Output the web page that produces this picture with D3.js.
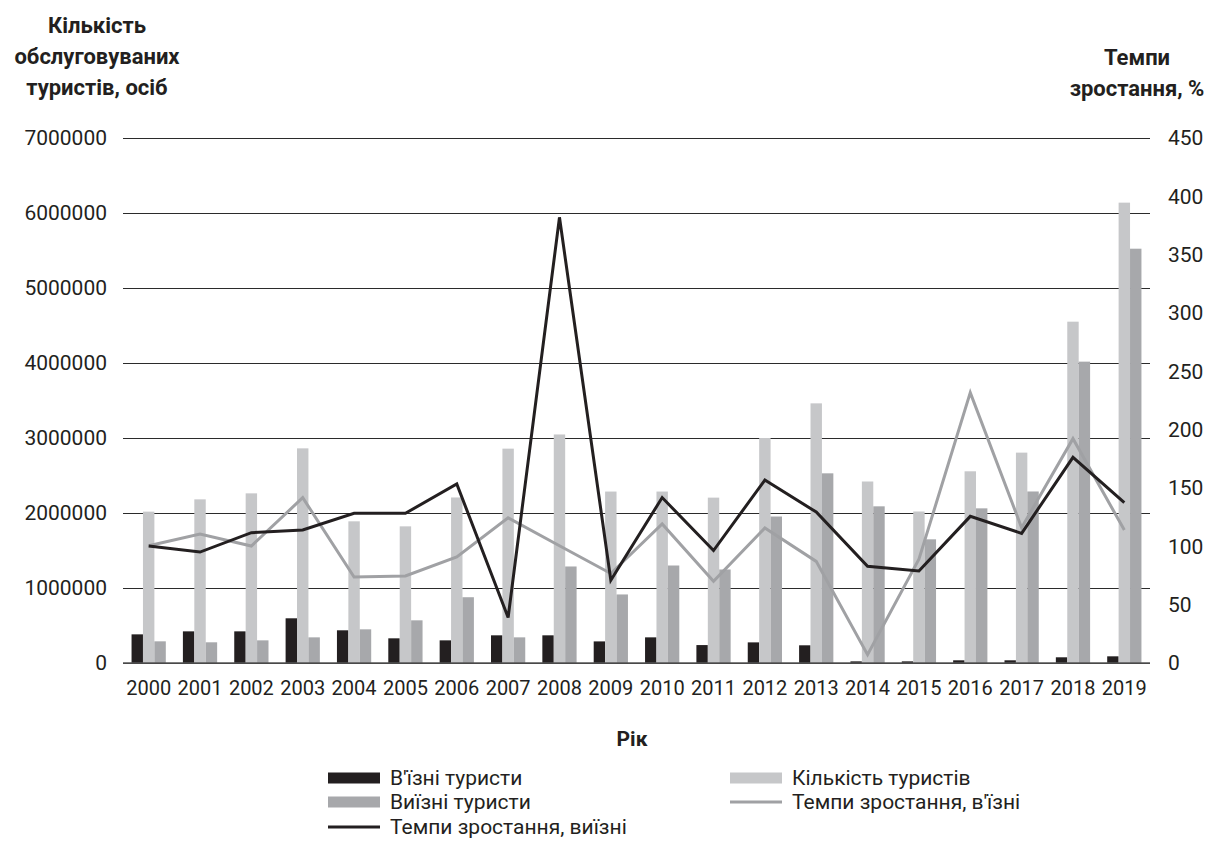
<!DOCTYPE html>
<html><head><meta charset="utf-8">
<script src="https://cdn.jsdelivr.net/npm/d3@7"></script>
<style>
html,body{margin:0;padding:0;background:#fff;}
svg{display:block;font-family:Roboto,"Open Sans",sans-serif;}
</style></head>
<body><svg id="chart" width="1209" height="849"></svg>
<script>
const years = ["2000","2001","2002","2003","2004","2005","2006","2007","2008","2009","2010","2011","2012","2013","2014","2015","2016","2017","2018","2019"];
const inbound  = [382000,422000,422000,596000,436000,329000,302000,369000,369000,288000,342000,239000,275000,236000,22000,22000,36000,36000,76000,89000];
const total    = [2018000,2182000,2262000,2862000,1889000,1822000,2207000,2858000,3047000,2286000,2286000,2205000,3000000,3462000,2420000,2020000,2556000,2805000,4551000,6138000];
const outbound = [289000,276000,302000,342000,449000,569000,877000,342000,1287000,914000,1300000,1247000,1953000,2529000,2089000,1649000,2062000,2287000,4018000,5524000];
const rateIn   = [100.5,110.6,100.3,141.7,73.7,74.6,91,124.4,100.5,76.7,119.2,70,115.7,87.1,7.1,88.9,231.7,116,192.3,114];
const rateOut  = [100.3,95.1,111.7,114,128.3,128.3,153.5,39,382,70.9,141.8,96.4,156.8,129.4,82.9,78.9,125.7,111.1,176.3,137.4];
const leftTicks  = [0,1000000,2000000,3000000,4000000,5000000,6000000,7000000];
const rightTicks = [0,50,100,150,200,250,300,350,400,450];

const C = {inb:"#231f20", tot:"#c6c7c9", out:"#a7a8ab", lineIn:"#a0a1a4", lineOut:"#231f20"};
const svg = d3.select("#chart");
const L = 123, R = 1150, T = 138, B = 663;

const x0 = d3.scaleBand().domain(years).range([L, R]).padding(0);
const bw = x0.bandwidth();
const groupW = bw * 0.667;
const x1 = d3.scaleBand().domain(["inb","tot","out"]).range([0, groupW]).padding(0);
const yL = d3.scaleLinear().domain([0, 7000000]).range([B, T]);
const yR = d3.scaleLinear().domain([0, 450]).range([B, T]);

// gridlines + left axis
const axL = d3.axisLeft(yL).tickValues(leftTicks).tickSize(-(R - L)).tickFormat(d3.format("d")).tickPadding(16);
const gL = svg.append("g").attr("transform", `translate(${L},0)`).call(axL);
gL.select(".domain").remove();
gL.selectAll(".tick line").attr("stroke", "#2b2b2b").attr("stroke-width", 1.2);
gL.selectAll(".tick text").attr("font-size", 21).attr("fill", "#231f20").attr("font-family", "Roboto");

// right axis labels
const axR = d3.axisRight(yR).tickValues(rightTicks).tickSize(0).tickPadding(18);
const gR = svg.append("g").attr("transform", `translate(${R},0)`).call(axR);
gR.select(".domain").remove();
gR.selectAll(".tick text").attr("font-size", 21).attr("fill", "#231f20").attr("font-family", "Roboto");

// bars
const series = [{k:"inb", v:inbound}, {k:"tot", v:total}, {k:"out", v:outbound}];
const gBars = svg.append("g");
years.forEach((yr, i) => {
  const gx = x0(yr) + (bw - groupW) / 2;
  series.forEach(s => {
    gBars.append("rect")
      .attr("x", gx + x1(s.k))
      .attr("width", x1.bandwidth())
      .attr("y", yL(s.v[i]))
      .attr("height", B - yL(s.v[i]))
      .attr("fill", C[s.k]);
  });
});

// baseline
svg.append("line").attr("x1", L).attr("x2", R).attr("y1", B).attr("y2", B)
  .attr("stroke", "#555").attr("stroke-width", 1.5);

// x axis labels
const axX = d3.axisBottom(x0).tickSize(0).tickPadding(18);
const gX = svg.append("g").attr("transform", `translate(0,${B})`).call(axX);
gX.select(".domain").remove();
gX.selectAll(".tick text").attr("font-size", 20).attr("fill", "#231f20").attr("font-family", "Roboto");

// lines
const cx = d => x0(d) + bw / 2;
const lineGen = d3.line().x((d, i) => cx(years[i])).y(d => yR(d));
svg.append("path").datum(rateIn).attr("d", lineGen).attr("fill", "none")
  .attr("stroke", C.lineIn).attr("stroke-width", 3).attr("stroke-linejoin", "miter");
svg.append("path").datum(rateOut).attr("d", lineGen).attr("fill", "none")
  .attr("stroke", C.lineOut).attr("stroke-width", 3).attr("stroke-linejoin", "miter");

// titles
const leftTitle = ["Кількість", "обслуговуваних", "туристів, осіб"];
svg.append("text").attr("x", 97).attr("y", 33).attr("text-anchor", "middle")
  .attr("font-size", 22).attr("font-weight", "bold").attr("fill", "#231f20")
  .selectAll("tspan").data(leftTitle).join("tspan")
  .attr("x", 97).attr("dy", (d, i) => i === 0 ? 0 : 31).text(d => d);

const rightTitle = ["Темпи", "зростання, %"];
svg.append("text").attr("x", 1137).attr("y", 65).attr("text-anchor", "middle")
  .attr("font-size", 22).attr("font-weight", "bold").attr("fill", "#231f20")
  .selectAll("tspan").data(rightTitle).join("tspan")
  .attr("x", 1137).attr("dy", (d, i) => i === 0 ? 0 : 31).text(d => d);

svg.append("text").attr("x", 632).attr("y", 746).attr("text-anchor", "middle")
  .attr("font-size", 21).attr("font-weight", "bold").attr("fill", "#231f20").text("Рік");

// legend
const legend = [
  {label:"В'їзні туристи", type:"rect", color:C.inb, col:0, row:0},
  {label:"Кількість туристів", type:"rect", color:C.tot, col:1, row:0},
  {label:"Виїзні туристи", type:"rect", color:C.out, col:0, row:1},
  {label:"Темпи зростання, в'їзні", type:"line", color:C.lineIn, col:1, row:1},
  {label:"Темпи зростання, виїзні", type:"line", color:C.lineOut, col:0, row:2}
];
const colX = [328, 730];
const rowY = [778, 802, 827];
const gLeg = svg.append("g");
legend.forEach(it => {
  const x = colX[it.col], y = rowY[it.row];
  if (it.type === "rect") {
    gLeg.append("rect").attr("x", x).attr("y", y - 5.5).attr("width", 52).attr("height", 11).attr("fill", it.color);
  } else {
    gLeg.append("line").attr("x1", x).attr("x2", x + 52).attr("y1", y).attr("y2", y)
      .attr("stroke", it.color).attr("stroke-width", 3);
  }
  gLeg.append("text").attr("x", x + 62).attr("y", y).attr("dy", "0.35em")
    .attr("font-size", 21).attr("fill", "#231f20").text(it.label);
});
</script></body></html>
